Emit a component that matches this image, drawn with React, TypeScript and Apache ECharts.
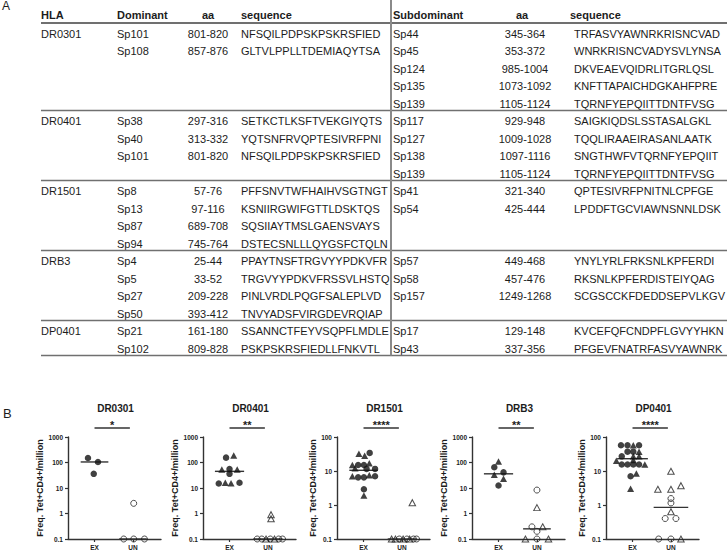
import React, { useEffect, useRef } from 'react';
import * as echarts from 'echarts';

// ---------------- Panel A: table data ----------------
const hlaAlleles = ['DR0301', 'DR0401', 'DR1501', 'DRB3', 'DP0401'];
const tableHeaders = ['HLA', 'Dominant', 'aa', 'sequence', 'Subdominant', 'aa', 'sequence'];

const dominantPeptides = [
  ['Sp101', 'Sp108'],
  ['Sp38', 'Sp40', 'Sp101'],
  ['Sp8', 'Sp13', 'Sp87', 'Sp94'],
  ['Sp4', 'Sp5', 'Sp27', 'Sp50'],
  ['Sp21', 'Sp102'],
];
const dominantAA = [
  ['801-820', '857-876'],
  ['297-316', '313-332', '801-820'],
  ['57-76', '97-116', '689-708', '745-764'],
  ['25-44', '33-52', '209-228', '393-412'],
  ['161-180', '809-828'],
];
const dominantSequences = [
  ['NFSQILPDPSKPSKRSFIED', 'GLTVLPPLLTDEMIAQYTSA'],
  ['SETKCTLKSFTVEKGIYQTS', 'YQTSNFRVQPTESIVRFPNI', 'NFSQILPDPSKPSKRSFIED'],
  ['PFFSNVTWFHAIHVSGTNGT', 'KSNIIRGWIFGTTLDSKTQS', 'SQSIIAYTMSLGAENSVAYS', 'DSTECSNLLLQYGSFCTQLN'],
  ['PPAYTNSFTRGVYYPDKVFR', 'TRGVYYPDKVFRSSVLHSTQ', 'PINLVRDLPQGFSALEPLVD', 'TNVYADSFVIRGDEVRQIAP'],
  ['SSANNCTFEYVSQPFLMDLE', 'PSKPSKRSFIEDLLFNKVTL'],
];
const subdominantPeptides = [
  ['Sp44', 'Sp45', 'Sp124', 'Sp135', 'Sp139'],
  ['Sp117', 'Sp127', 'Sp138', 'Sp139'],
  ['Sp41', 'Sp54'],
  ['Sp57', 'Sp58', 'Sp157'],
  ['Sp17', 'Sp43'],
];
const subdominantAA = [
  ['345-364', '353-372', '985-1004', '1073-1092', '1105-1124'],
  ['929-948', '1009-1028', '1097-1116', '1105-1124'],
  ['321-340', '425-444'],
  ['449-468', '457-476', '1249-1268'],
  ['129-148', '337-356'],
];
const subdominantSequences = [
  ['TRFASVYAWNRKRISNCVAD', 'WNRKRISNCVADYSVLYNSA', 'DKVEAEVQIDRLITGRLQSL', 'KNFTTAPAICHDGKAHFPRE', 'TQRNFYEPQIITTDNTFVSG'],
  ['SAIGKIQDSLSSTASALGKL', 'TQQLIRAAEIRASANLAATK', 'SNGTHWFVTQRNFYEPQIIT', 'TQRNFYEPQIITTDNTFVSG'],
  ['QPTESIVRFPNITNLCPFGE', 'LPDDFTGCVIAWNSNNLDSK'],
  ['YNYLYRLFRKSNLKPFERDI', 'RKSNLKPFERDISTEIYQAG', 'SCGSCCKFDEDDSEPVLKGV'],
  ['KVCEFQFCNDPFLGVYYHKN', 'PFGEVFNATRFASVYAWNRK'],
];

// ---------------- Panel B: scatter data ([x jitter around group, frequency]) ----------------
const groupLabels = ['EX', 'UN'];
const yAxisTitle = 'Freq. Tet+CD4+/million';
const yTickLabels = ['0.1', '1', '10', '100', '1000'];
const plotMaxima = [1000, 1000, 100, 1000, 100];
const significance = ['*', '**', '****', '**', '****'];

const dr0301ExCircles = [[-0.17, 150], [0.09, 105], [-0.02, 36]];
const dr0301ExTriangles: number[][] = [];
const dr0301UnCircles = [[-0.24, 0.1], [0.02, 0.1], [0.3, 0.1], [0.02, 2.5]];
const dr0301UnTriangles: number[][] = [];
const dr0301Medians = [105, 0.1];

const dr0401ExCircles = [[-0.09, 155], [0, 55], [0, 36], [-0.28, 15], [0.26, 16]];
const dr0401ExTriangles = [[0.11, 190], [-0.2, 53], [0.2, 53], [-0.11, 16], [0.04, 15.5]];
const dr0401UnCircles = [[-0.28, 0.1], [-0.16, 0.1], [0.06, 0.1], [0.28, 0.1], [0.38, 0.1]];
const dr0401UnTriangles = [[-0.05, 0.1], [0.17, 0.1], [0.08, 0.9], [0.08, 0.62]];
const dr0401Medians = [45, 0.1];

const dr1501ExCircles = [[0.16, 34], [-0.14, 15], [0.01, 15], [0.08, 11.5], [0.3, 11.5], [-0.14, 6.5], [0.01, 6.5], [0.3, 7], [0.01, 2.9]];
const dr1501ExTriangles = [[-0.12, 32], [0.03, 28], [-0.29, 15], [0.15, 17], [-0.22, 12], [-0.29, 7], [0.15, 7.5], [0.01, 1.9]];
const dr1501UnCircles = [[-0.07, 0.1], [0.13, 0.1], [0.3, 0.1], [0.38, 0.1]];
const dr1501UnTriangles = [[-0.27, 0.1], [-0.17, 0.1], [0.03, 0.1], [0.2, 0.1], [0.27, 1.17]];
const dr1501Medians = [10.5, 0.1];

const drb3ExCircles = [[-0.11, 65], [0.13, 41], [0, 12.5]];
const drb3ExTriangles = [[0, 110], [-0.11, 33], [0.13, 23]];
const drb3UnCircles = [[0, 8.3], [-0.13, 0.3], [0, 0.2], [0, 0.1]];
const drb3UnTriangles = [[0, 1.7], [0.15, 0.3], [-0.3, 0.1], [0.3, 0.1]];
const drb3Medians = [36, 0.25];

const dp0401ExCircles = [[-0.3, 57], [-0.13, 57], [0.17, 57], [-0.13, 37], [0.02, 37], [-0.28, 27], [-0.28, 15.5], [-0.13, 15.5], [0.02, 15.5], [0.17, 15.5], [-0.05, 7]];
const dp0401ExTriangles = [[0.02, 57], [0.17, 37], [0.02, 27], [0.17, 27], [-0.42, 20], [0.02, 21], [0.32, 15.5], [0.1, 8.5], [-0.05, 3]];
const dp0401UnCircles = [[0, 1.55], [0, 1.15], [-0.15, 0.4], [0.13, 0.4], [-0.32, 0.1], [0, 0.1]];
const dp0401UnTriangles = [[0, 9.8], [-0.34, 2.9], [0, 2.9], [0.26, 3.7], [0, 0.63], [0.26, 0.1]];
const dp0401Medians = [23, 0.85];

const exCircles = [dr0301ExCircles, dr0401ExCircles, dr1501ExCircles, drb3ExCircles, dp0401ExCircles];
const exTriangles = [dr0301ExTriangles, dr0401ExTriangles, dr1501ExTriangles, drb3ExTriangles, dp0401ExTriangles];
const unCircles = [dr0301UnCircles, dr0401UnCircles, dr1501UnCircles, drb3UnCircles, dp0401UnCircles];
const unTriangles = [dr0301UnTriangles, dr0401UnTriangles, dr1501UnTriangles, drb3UnTriangles, dp0401UnTriangles];
const medians = [dr0301Medians, dr0401Medians, dr1501Medians, drb3Medians, dp0401Medians];

// ---------------- layout / style ----------------
const FONT = '"Liberation Sans", Arial, Helvetica, sans-serif';
const INK = '#1c1c1c';
const RULE = '#707070';
const AXIS = '#333333';
const gridLefts = [68, 203, 337, 472, 606];
const GRID_TOP = 437;
const GRID_H = 102;
const GRID_W = 93;
const X_MIN = 0.31;
const X_MAX = 2.73;
const medianHalf = [[0.36, 0.36], [0.38, 0.38], [0.37, 0.37], [0.38, 0.36], [0.4, 0.45]];

const ROW_H = 17.5;
const HEADER_Y = 15;
const HEADER_RULE_Y = 23;
const TABLE_L = 41;
const TABLE_R = 727;
const SPLIT_X = 391;
const colX = { hla: 41, dom: 117, domAA: 208, domSeq: 241, sub: 393, subAA: 525, subSeq: 574 };

function txt(text: string, x: number, y: number, opts: any = {}) {
  const align = opts.align || 'left';
  const va = opts.va || 'middle';
  return {
    type: 'text',
    x,
    y,
    silent: true,
    style: {
      text,
      fill: opts.fill || INK,
      font: `${opts.weight || 'normal'} ${opts.size || 11}px ${FONT}`,
      textAlign: align,
      align,
      textVerticalAlign: va,
      verticalAlign: va,
    },
  };
}
function rule(x1: number, y1: number, x2: number, y2: number, w = 1.5, c = RULE) {
  return { type: 'line', silent: true, shape: { x1, y1, x2, y2 }, style: { stroke: c, lineWidth: w } };
}

function buildTable() {
  const els: any[] = [];
  els.push(txt('A', 2, 6, { size: 12 }));
  const hx = [colX.hla, colX.dom, colX.domAA, colX.domSeq, colX.sub, colX.subAA - 3, colX.subSeq - 4];
  tableHeaders.forEach((h, k) => {
    const center = k === 2 || k === 5;
    els.push(txt(h, hx[k], HEADER_Y, { weight: 'bold', align: center ? 'center' : 'left' }));
  });
  els.push(rule(TABLE_L, HEADER_RULE_Y, TABLE_R, HEADER_RULE_Y, 2));
  let top = HEADER_RULE_Y;
  hlaAlleles.forEach((hla, g) => {
    const n = Math.max(dominantPeptides[g].length, subdominantPeptides[g].length);
    const rowY = (r: number) => top + 10.5 + r * ROW_H;
    els.push(txt(hla, colX.hla, rowY(0)));
    dominantPeptides[g].forEach((p, r) => {
      els.push(txt(p, colX.dom, rowY(r)));
      els.push(txt(dominantAA[g][r], colX.domAA, rowY(r), { align: 'center' }));
      els.push(txt(dominantSequences[g][r], colX.domSeq, rowY(r)));
    });
    subdominantPeptides[g].forEach((p, r) => {
      els.push(txt(p, colX.sub, rowY(r)));
      els.push(txt(subdominantAA[g][r], colX.subAA, rowY(r), { align: 'center' }));
      els.push(txt(subdominantSequences[g][r], colX.subSeq, rowY(r)));
    });
    top += n * ROW_H;
    els.push(rule(TABLE_L, top, TABLE_R, top, 1.5));
  });
  els.push(rule(SPLIT_X, 0, SPLIT_X, top, 2, '#8a8a8a'));
  return els;
}

function buildOption() {
  const grid: any[] = [];
  const xAxis: any[] = [];
  const yAxis: any[] = [];
  const series: any[] = [];
  const labelStyle = { fontSize: 6.5, fontWeight: 'bold', color: INK, fontFamily: FONT };
  hlaAlleles.forEach((_, i) => {
    grid.push({ left: gridLefts[i], top: GRID_TOP, width: GRID_W, height: GRID_H, containLabel: false });
    xAxis.push({
      type: 'value',
      gridIndex: i,
      min: X_MIN,
      max: X_MAX,
      axisLine: { show: true, onZero: false, lineStyle: { color: AXIS, width: 1.4 } },
      axisTick: { show: true, length: 3, customValues: [1, 2], lineStyle: { color: AXIS, width: 1.2 } },
      axisLabel: {
        ...labelStyle,
        margin: 5,
        customValues: [1, 2],
        formatter: (v: number) => groupLabels[Math.round(v) - 1] || '',
      },
      splitLine: { show: false },
    });
    yAxis.push({
      type: 'log',
      logBase: 10,
      gridIndex: i,
      min: 0.1,
      max: plotMaxima[i],
      splitNumber: plotMaxima[i] === 1000 ? 4 : 3,
      axisLine: { show: true, lineStyle: { color: AXIS, width: 1.4 } },
      axisTick: { show: true, length: 3, lineStyle: { color: AXIS, width: 1.2 } },
      minorTick: { show: false },
      axisLabel: {
        ...labelStyle,
        margin: 5,
        showMinLabel: true,
        showMaxLabel: true,
        formatter: (v: number) => yTickLabels[Math.round(Math.log10(v)) + 1] ?? String(v),
      },
      splitLine: { show: false },
      name: yAxisTitle,
      nameLocation: 'middle',
      nameGap: plotMaxima[i] === 1000 ? 21 : 18,
      nameTextStyle: { fontSize: 9, fontWeight: 'bold', color: INK, fontFamily: FONT },
    });
    const place = (arr: number[][], c: number) => arr.map(([dx, v]) => [c + dx, v]);
    const common = { type: 'scatter', xAxisIndex: i, yAxisIndex: i, clip: false, silent: true, z: 3 };
    series.push({ ...common, data: place(exCircles[i], 1), symbol: 'circle', symbolSize: 6.5, itemStyle: { color: '#111' } });
    series.push({ ...common, data: place(exTriangles[i], 1), symbol: 'triangle', symbolSize: [7, 6.5], itemStyle: { color: '#111' } });
    series.push({ ...common, data: place(unCircles[i], 2), symbol: 'circle', symbolSize: 6, itemStyle: { color: 'rgba(0,0,0,0)', borderColor: '#222', borderWidth: 1 } });
    series.push({ ...common, data: place(unTriangles[i], 2), symbol: 'triangle', symbolSize: [6.5, 6], itemStyle: { color: 'rgba(0,0,0,0)', borderColor: '#222', borderWidth: 1 } });
    [0, 1].forEach((g) => {
      const c = g + 1;
      series.push({
        type: 'line', xAxisIndex: i, yAxisIndex: i, silent: true, symbol: 'none', clip: false, z: 2,
        data: [[c - medianHalf[i][g], medians[i][g]], [c + medianHalf[i][g], medians[i][g]]],
        lineStyle: { color: '#333', width: 1.4 },
      });
    });
  });
  return { animation: false, backgroundColor: '#ffffff', grid, xAxis, yAxis, series };
}

export default function App() {
  const ref = useRef<HTMLDivElement>(null);
  useEffect(() => {
    if (!ref.current) return;
    const chart = echarts.init(ref.current, null, { renderer: 'svg', width: 728, height: 553 });
    chart.setOption(buildOption());
    const extra: any[] = [txt('B', 3, 413, { size: 13 })];
    hlaAlleles.forEach((hla, i) => {
      const a = chart.convertToPixel({ gridIndex: i } as any, [1.0, plotMaxima[i]]) as number[];
      const b = chart.convertToPixel({ gridIndex: i } as any, [1.92, plotMaxima[i]]) as number[];
      const barY = a[1] - 9;
      extra.push(rule(a[0], barY, b[0], barY, 1.5, '#333'));
      extra.push(txt(significance[i], (a[0] + b[0]) / 2, barY + 2, { weight: 'bold', size: 11, align: 'center', va: 'bottom' }));
      extra.push(txt(hla, gridLefts[i] + GRID_W / 2 + 1, 408, { weight: 'bold', size: 10, align: 'center' }));
    });
    chart.setOption({ graphic: { elements: [...buildTable(), ...extra] } });
    return () => chart.dispose();
  }, []);
  return (
    <div
      ref={ref}
      style={{ position: 'fixed', left: 0, top: 0, width: 728, height: 553, background: '#fff' }}
    />
  );
}
